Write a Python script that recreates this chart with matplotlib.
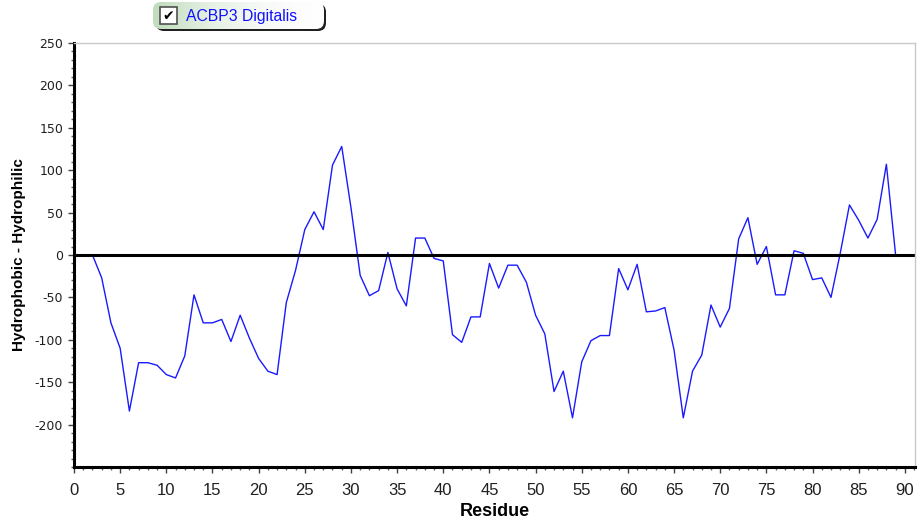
import matplotlib
matplotlib.use('Agg')
import matplotlib.pyplot as plt
import numpy as np
from matplotlib.patches import FancyBboxPatch, Rectangle
from matplotlib.ticker import MultipleLocator

plt.rcParams['font.family'] = ['Liberation Sans', 'DejaVu Sans']
plt.rcParams['axes.unicode_minus'] = False

# hydropathy profile, one value per residue
residues = list(range(2, 90))
values = [0, -27, -80, -110, -184, -127, -127, -130, -141, -145,
          -119, -47, -80, -80, -76, -102, -71, -98, -122, -137,
          -141, -56, -18, 30, 51, 30, 106, 128, 56, -24,
          -48, -42, 3, -40, -60, 20, 20, -4, -7, -94,
          -103, -73, -73, -10, -39, -12, -12, -32, -71, -93,
          -161, -137, -192, -126, -101, -95, -95, -16, -41, -11,
          -67, -66, -62, -112, -192, -137, -118, -59, -85, -63,
          19, 44, -11, 10, -47, -47, 5, 2, -29, -27,
          -50, 2, 59, 41, 20, 42, 107, 0]
series_name = 'ACBP3 Digitalis'
x_label = 'Residue'
y_label = 'Hydrophobic - Hydrophilic'

W, H = 921, 523
fig = plt.figure(figsize=(W / 100, H / 100), dpi=100)
ax = fig.add_axes([74/W, 1-467/H, (915-74)/W, (467-43)/H])

ax.plot(residues, values, color='#1a1aff', linewidth=1.0)
ax.axhline(0, color='black', linewidth=2.2)

ax.set_xlim(0, 91.1)
ax.set_ylim(-250, 250)
ax.xaxis.set_major_locator(MultipleLocator(5))
ax.xaxis.set_minor_locator(MultipleLocator(1))
ax.yaxis.set_minor_locator(MultipleLocator(10))
ax.set_yticks(range(-200, 251, 50))

ax.tick_params(axis='y', which='major', length=4.3, width=1, color='#404040',
               labelsize=9, labelcolor='#202020', pad=3.5)
ax.tick_params(axis='x', which='major', length=4.3, width=1, color='#404040',
               labelsize=12, labelcolor='#202020', pad=7.5)
ax.tick_params(axis='both', which='minor', length=2.5, width=1, color='#606060')
for lab in ax.get_yticklabels():
    lab.set_family('DejaVu Sans')

for s in ['left', 'bottom']:
    ax.spines[s].set_linewidth(2.2)
    ax.spines[s].set_color('black')
for s in ['top', 'right']:
    ax.spines[s].set_linewidth(1)
    ax.spines[s].set_color('#c8c8c8')

ax.set_xlabel(x_label, fontsize=13, fontweight='bold', labelpad=3)
ax.set_ylabel(y_label, fontsize=11, fontweight='bold', labelpad=6)

# legend box drawn like the original checkbox legend
lax = fig.add_axes([0, 0, 1, 1], zorder=5)
shadow = FancyBboxPatch((156, 4), 170, 27, boxstyle='round,pad=0,rounding_size=8',
                        facecolor='#202020', edgecolor='none', zorder=1)
lax.add_patch(shadow)
box = FancyBboxPatch((153, 2), 171, 27, boxstyle='round,pad=0,rounding_size=8',
                     facecolor='none', edgecolor='none', zorder=2)
lax.add_patch(box)
grad = np.linspace(0, 1, 200).reshape(1, -1)
cmap = matplotlib.colors.LinearSegmentedColormap.from_list(
    'leg', ['#bfdcbc', '#e6f1e4', '#f8faf8', '#ffffff'])
img = lax.imshow(grad, extent=(153, 324, 29, 2), cmap=cmap, aspect='auto',
                 zorder=2)
img.set_clip_path(box)
lax.add_patch(Rectangle((160, 7), 17, 17, facecolor='white',
                        edgecolor='#505050', linewidth=1.2, zorder=3))
lax.text(168.5, 16, '\u2714', fontsize=10, ha='center', va='center',
         family='DejaVu Sans', color='black', zorder=4)
lax.text(186, 16, series_name, fontsize=11.3, ha='left', va='center',
         color='#1010ff', zorder=4)
lax.set_xlim(0, W)
lax.set_ylim(H, 0)
lax.axis('off')

fig.savefig('out.png', dpi=100)
